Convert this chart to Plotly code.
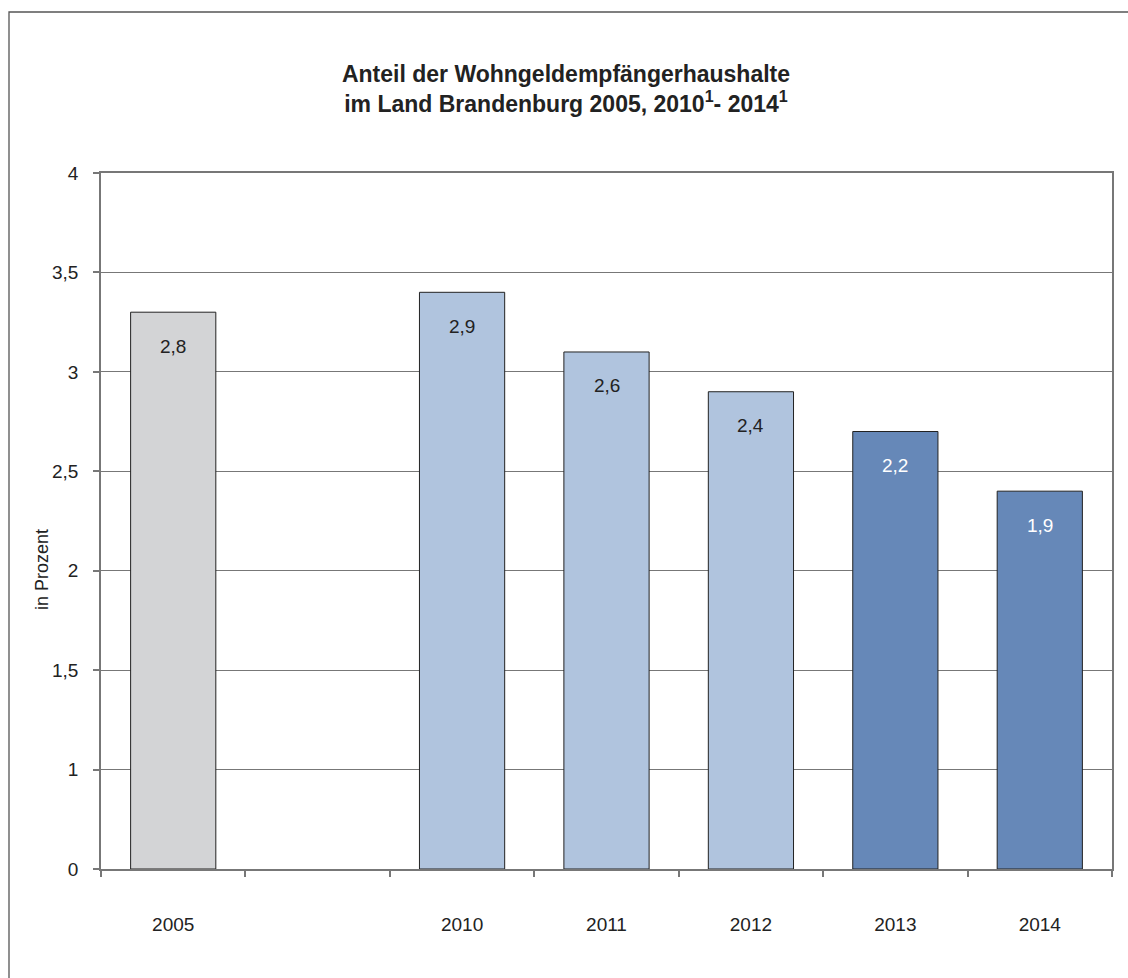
import plotly.graph_objects as go

categories = ["2005", " ", "2010", "2011", "2012", "2013", "2014"]
values = [2.8, None, 2.9, 2.6, 2.4, 2.2, 1.9]
value_labels = ["2,8", "", "2,9", "2,6", "2,4", "2,2", "1,9"]
bar_colors = ["#D3D4D6", "#FFFFFF", "#B0C4DE", "#B0C4DE", "#B0C4DE", "#6688B8", "#6688B8"]
label_colors = ["#222222", "#222222", "#222222", "#222222", "#222222", "#FFFFFF", "#FFFFFF"]
# axis positions and the labels printed on them in the original chart
y_tickvals = [0, 0.5, 1, 1.5, 2, 2.5, 3, 3.5]
y_ticktext = ["0", "1", "1,5", "2", "2,5", "3", "3,5", "4"]

FONT = "Liberation Sans, Arial, sans-serif"
W, H = 1128, 978
L, T = 101, 173
R = W - 1112
B = H - 869
pw, ph = W - L - R, H - T - B


def px_x(x):  # page pixel x -> paper
    return (x - L) / pw


def px_y(y):  # page pixel y -> paper
    return (H - B - y) / ph


fig = go.Figure()
fig.add_trace(go.Bar(
    x=list(range(len(categories))), y=values,
    marker=dict(color=bar_colors, line=dict(color="#222222", width=1)),
    hoverinfo="y",
))

for i, (v, t, col) in enumerate(zip(values, value_labels, label_colors)):
    if v is None:
        continue
    fig.add_annotation(x=i, y=v, text=t, showarrow=False, yshift=-34,
                       font=dict(family=FONT, size=19, color=col))

fig.add_annotation(xref="paper", yref="paper", x=px_x(42), y=px_y(570),
                   text="in Prozent", textangle=-90, showarrow=False,
                   xanchor="center", yanchor="middle",
                   font=dict(family=FONT, size=18, color="#222222"))

fig.add_shape(type="rect", xref="paper", yref="paper",
              x0=px_x(9), x1=px_x(1300), y0=px_y(1100), y1=px_y(12),
              line=dict(color="#555555", width=1.3), fillcolor="rgba(0,0,0,0)", layer="below")

fig.update_layout(
    width=W, height=H,
    margin=dict(l=L, r=R, t=T, b=B, pad=0),
    paper_bgcolor="white", plot_bgcolor="white",
    showlegend=False,
    bargap=0.41,
    font=dict(family=FONT, size=19, color="#222222"),
    title=dict(
        text="<b>Anteil der Wohngeldempfängerhaushalte<br>im Land Brandenburg 2005, 2010<sup>1</sup>- 2014<sup>1</sup></b>",
        x=566 / W, xanchor="center", y=1 - 82 / H, yanchor="middle",
        font=dict(family=FONT, size=23, color="#222222"),
    ),
)
fig.update_xaxes(
    type="linear", range=[-0.5, len(categories) - 0.5],
    tickmode="array", tickvals=list(range(len(categories))), ticktext=categories,
    showline=True, linecolor="#777777", linewidth=1.5, mirror=True,
    ticks="", showgrid=False, zeroline=False, automargin=False,
    ticklabelstandoff=37,
    tickfont=dict(family=FONT, size=19, color="#222222"),
)
# boundary tick marks between categories via minor ticks
fig.update_xaxes(minor=dict(tickvals=[i - 0.5 for i in range(len(categories) + 1)],
                            ticks="outside", ticklen=6, tickcolor="#777777", tickwidth=1.5,
                            showgrid=False))
fig.update_yaxes(
    range=[0, 3.5], tickvals=y_tickvals, ticktext=y_ticktext,
    showline=True, linecolor="#777777", linewidth=1.5, mirror=True,
    ticks="outside", ticklen=6, tickcolor="#777777", tickwidth=1.5,
    showgrid=True, gridcolor="#777777", gridwidth=1.2,
    zeroline=False, automargin=False,
    ticklabelstandoff=11,
    tickfont=dict(family=FONT, size=19, color="#222222"),
)

fig.write_html("out.html", config={"displayModeBar": False},
               post_script="document.body.style.margin='0';document.body.style.overflow='hidden';")
